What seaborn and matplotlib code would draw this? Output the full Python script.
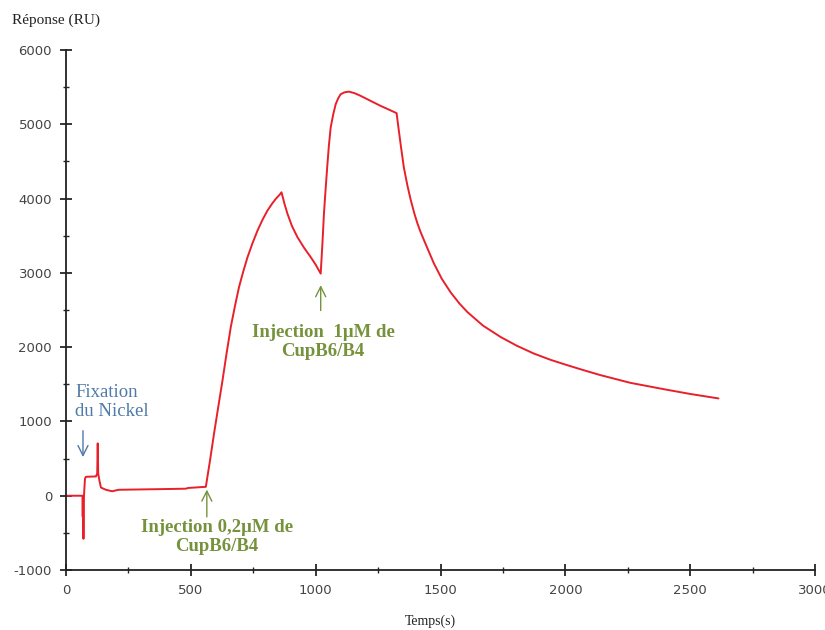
import numpy as np
import pandas as pd
import seaborn as sns
import matplotlib.pyplot as plt

# sensorgramme : temps (s) et reponse (RU)
temps = [0, 66, 67, 68, 70, 72, 76, 80, 120, 125, 127, 129, 134, 140, 160, 185,
         210, 300, 400, 480, 490, 560, 577, 593, 610, 627, 643, 660, 677, 693,
         710, 727, 747, 767, 787, 807, 825, 840, 855, 863, 875, 887, 905, 927,
         955, 980, 1000, 1020, 1027, 1033, 1040, 1047, 1053, 1060, 1070, 1080,
         1090, 1100, 1115, 1133, 1155, 1180, 1220, 1260, 1295, 1324, 1333,
         1343, 1353, 1367, 1380, 1395, 1407, 1420, 1445, 1473, 1505, 1540,
         1575, 1607, 1670, 1740, 1805, 1873, 1940, 2007, 2073, 2140, 2260,
         2393, 2500, 2613]
reponse = [0, 0, -280, -20, -580, 0, 230, 255, 260, 300, 705, 300, 200, 110,
           80, 60, 80, 85, 90, 95, 105, 120, 480, 840, 1200, 1557, 1915, 2272,
           2560, 2810, 3020, 3212, 3400, 3570, 3715, 3840, 3930, 3996, 4050,
           4085, 3930, 3795, 3630, 3480, 3330, 3212, 3110, 2990, 3400, 3795,
           4140, 4465, 4720, 4957, 5130, 5270, 5350, 5405, 5430, 5440, 5420,
           5383, 5315, 5248, 5195, 5150, 4913, 4660, 4420, 4180, 3990, 3800,
           3670, 3550, 3350, 3130, 2920, 2740, 2590, 2474, 2290, 2138, 2020,
           1915, 1830, 1758, 1690, 1624, 1520, 1435, 1370, 1310]

x_ticks = [0, 500, 1000, 1500, 2000, 2500, 3000]
y_ticks = [-1000, 0, 1000, 2000, 3000, 4000, 5000, 6000]

df = pd.DataFrame({'Temps': temps, 'Reponse': reponse})

sns.set_style('ticks')
plt.rcParams['axes.unicode_minus'] = False
serif = ['Liberation Serif', 'DejaVu Serif']

fig = plt.figure(figsize=(8.25, 6.3), dpi=100)
ax = fig.add_axes([0.08, 0.0952, 0.908, 0.8254])

sns.lineplot(data=df, x='Temps', y='Reponse', ax=ax, color='#e8202a',
             linewidth=1.4, estimator=None, sort=False,
             solid_joinstyle='round')

ax.set_xlim(0, 3000)
ax.set_ylim(-1000, 6000)
ax.set_xticks(x_ticks)
ax.set_yticks(y_ticks)
ax.set_xticks(np.arange(250, 3000, 500), minor=True)
ax.set_yticks(np.arange(-500, 6000, 1000), minor=True)
ax.tick_params(which='major', direction='inout', length=8, width=1.3,
               labelsize=9.5, labelcolor='#444444', pad=6)
ax.tick_params(which='minor', direction='inout', length=4, width=1.0)
ax.set_xlabel('')
ax.set_ylabel('')
sns.despine(ax=ax)
for s in ['left', 'bottom']:
    ax.spines[s].set_linewidth(1.3)
    ax.spines[s].set_color('#222222')

fig.text(0.015, 0.968, 'Réponse (RU)', family=serif, fontsize=11,
         color='#222222', ha='left', va='center')
fig.text(430 / 825, 1 - 621 / 630, 'Temps(s)', family=serif, fontsize=10,
         color='#222222', ha='center', va='center')

# annotations
blue = '#4f7aa8'
ax.annotate('', xy=(68, 483), xytext=(68, 913),
            arrowprops=dict(arrowstyle='->', color=blue, lw=1.0,
                            mutation_scale=18))
ax.text(38, 1260, 'Fixation\ndu Nickel', family=serif, fontsize=13.5,
        color=blue, ha='left', va='center', linespacing=1.15)

green = '#76923c'
ax.annotate('', xy=(564, 120), xytext=(564, -322),
            arrowprops=dict(arrowstyle='->', color=green, lw=1.0,
                            mutation_scale=18))
ax.text(604, -550, 'Injection 0,2µM de\nCupB6/B4', family=serif,
        fontsize=13.5, fontweight='bold', color=green, ha='center',
        va='center', linespacing=1.15)

ax.annotate('', xy=(1020, 2872), xytext=(1020, 2456),
            arrowprops=dict(arrowstyle='->', color=green, lw=1.0,
                            mutation_scale=18))
ax.text(1030, 2070, 'Injection  1µM de\nCupB6/B4', family=serif,
        fontsize=13.5, fontweight='bold', color=green, ha='center',
        va='center', linespacing=1.15)

fig.savefig('out.png', dpi=100)
